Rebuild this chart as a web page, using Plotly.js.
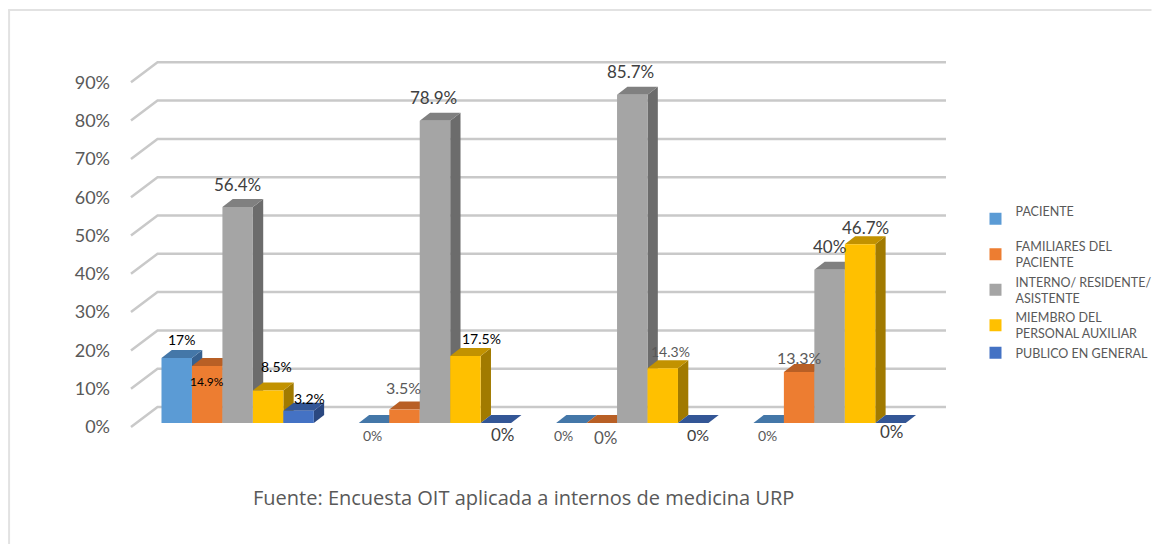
<!DOCTYPE html>
<html><head><meta charset="utf-8">
<script src="https://cdn.plot.ly/plotly-3.0.1.min.js"></script>
<style>html,body{margin:0;padding:0;background:#fff}</style></head>
<body><div id="chart" style="width:1169px;height:544px"></div>
<script>
// Data
const groups = [0, 1, 2, 3];
const seriesNames = ["PACIENTE<br>&nbsp;", "FAMILIARES DEL<br>PACIENTE", "INTERNO/ RESIDENTE/<br>ASISTENTE", "MIEMBRO DEL<br>PERSONAL AUXILIAR", "PUBLICO EN GENERAL"];
const paciente = [17, 0, 0, 0];
const familiares = [14.9, 3.5, 0, 13.3];
const interno = [56.4, 78.9, 85.7, 40];
const miembro = [8.5, 17.5, 14.3, 46.7];
const publico = [3.2, 0, 0, 0];
const tickValues = [0, 10, 20, 30, 40, 50, 60, 70, 80, 90];
const source = "Fuente: Encuesta OIT aplicada a internos de medicina URP";

// Style
const allSeries = [paciente, familiares, interno, miembro, publico];
const frontColors = ["#5b9bd5", "#ed7d31", "#a5a5a5", "#ffc000", "#4472c4"];
const topColors = ["#4477a8", "#b85f25", "#808080", "#c29200", "#335696"];
const sideColors = ["#37618f", "#9a4f1e", "#6c6c6c", "#a17a00", "#2b4880"];
const pxPerUnitX = 200.7, pxPerUnitY = 3.83;
const bargap = 0.228, barW = (1 - bargap) / 5;
const depthX = 10.5 / pxPerUnitX, depthY = 8 / pxPerUnitY;
const baseY = 4 / pxPerUnitY;
const xRange = [-0.5456, 3.59], yRange = [-3.39, 101.04];
const wallX = 27 / pxPerUnitX, wallY = 20 / pxPerUnitY;
const gridLeft = xRange[0] + 1 / pxPerUnitX;

// label offsets in px per series/group (dx, dy from the bar's top centre), font size, colour
const labelDx = [[4.5,-1.5,-8,-1.5],[0,-1,4,0],[0,-1,-1.5,0],[8.5,16,7.5,5],[10.5,7,4.5,1]];
const labelDy = [[18,-12,-12,-12],[-16,22.6,-14,15],[22,23,23,23],[24,17,17,17],[12,-11,-11,-8]];
const labelSize = [[14,14,14,14],[12,16,17,16],[17,17,17,17],[14,14,14,17],[14,17,16,17]];
const labelColor = [["#000","#595959","#595959","#595959"],["#000","#595959","#595959","#595959"],["#404040","#404040","#404040","#404040"],["#000","#000","#595959","#404040"],["#000","#404040","#404040","#404040"]];

const traces = allSeries.map((vals, s) => ({
  type: "bar", x: groups, y: vals, base: baseY, name: seriesNames[s],
  marker: {color: frontColors[s], line: {width: 0}}, hoverinfo: "y"
}));

const shapes = [];
// frame
shapes.push({type:"line",xref:"paper",yref:"paper",x0:-124/830,x1:1039/830,y0:430/400,y1:430/400,line:{color:"#e2e2e2",width:2},layer:"below"});
shapes.push({type:"line",xref:"paper",yref:"paper",x0:-123/830,x1:-123/830,y0:430/400,y1:-104/400,line:{color:"#e2e2e2",width:2},layer:"below"});
// gridlines in pseudo-3D
tickValues.forEach(t => {
  shapes.push({type:"path",xref:"x",yref:"y",layer:"below",
    path:`M${gridLeft},${t} L${gridLeft+wallX},${t+wallY} L${xRange[1]},${t+wallY}`,
    line:{color:"#c9c9c9",width:2.5}});
});
// side + top faces, left to right
groups.forEach((g, gi) => {
  allSeries.forEach((vals, s) => {
    const x0 = g + (s - 2.5) * barW, x1 = x0 + barW, y0 = baseY, y1 = baseY + vals[gi];
    shapes.push({type:"path",xref:"x",yref:"y",layer:"below",fillcolor:sideColors[s],line:{width:0},
      path:`M${x1},${y0} L${x1+depthX},${y0+depthY} L${x1+depthX},${y1+depthY} L${x1},${y1} Z`});
    shapes.push({type:"path",xref:"x",yref:"y",layer:"below",fillcolor:topColors[s],line:{width:0},
      path:`M${x0},${y1} L${x1},${y1} L${x1+depthX},${y1+depthY} L${x0+depthX},${y1+depthY} Z`});
  });
});

const annotations = [];
groups.forEach((g, gi) => {
  allSeries.forEach((vals, s) => {
    annotations.push({xref:"x",yref:"y",x:g+(s-2)*barW,y:baseY+vals[gi],text:vals[gi]+"%",showarrow:false,
      xshift:labelDx[s][gi],yshift:labelDy[s][gi],xanchor:"center",yanchor:"middle",
      font:{family:"Lato, sans-serif",size:labelSize[s][gi],color:labelColor[s][gi]}});
  });
});
annotations.push({xref:"paper",yref:"paper",x:(530-130)/830,y:(440-497)/400,text:source,showarrow:false,
  xanchor:"center",yanchor:"middle",font:{family:"'Open Sans', sans-serif",size:20,color:"#595959"}});

Plotly.newPlot("chart", traces, {
  width:1169,height:544,autosize:false,
  margin:{l:130,r:209,t:40,b:104,pad:0},
  paper_bgcolor:"#fff",plot_bgcolor:"rgba(0,0,0,0)",
  barmode:"group",bargap:bargap,bargroupgap:0,
  xaxis:{range:xRange,showgrid:false,zeroline:false,showticklabels:false,ticks:"",showline:false,fixedrange:true},
  yaxis:{range:yRange,tickmode:"array",tickvals:tickValues,ticktext:tickValues.map(t=>t+"%"),showgrid:false,zeroline:false,showline:false,ticks:"",
    ticklabelstandoff:19,tickfont:{family:"Lato, sans-serif",size:18,color:"#595959"},fixedrange:true},
  legend:{x:(990-130)/830,xanchor:"left",y:(440-196)/400,yanchor:"top",font:{family:"Lato, sans-serif",size:12.5,color:"#595959"},traceorder:"normal",tracegroupgap:0,itemwidth:30,bgcolor:"rgba(0,0,0,0)"},
  shapes:shapes,annotations:annotations
},{displayModeBar:false,staticPlot:false});
</script></body></html>
